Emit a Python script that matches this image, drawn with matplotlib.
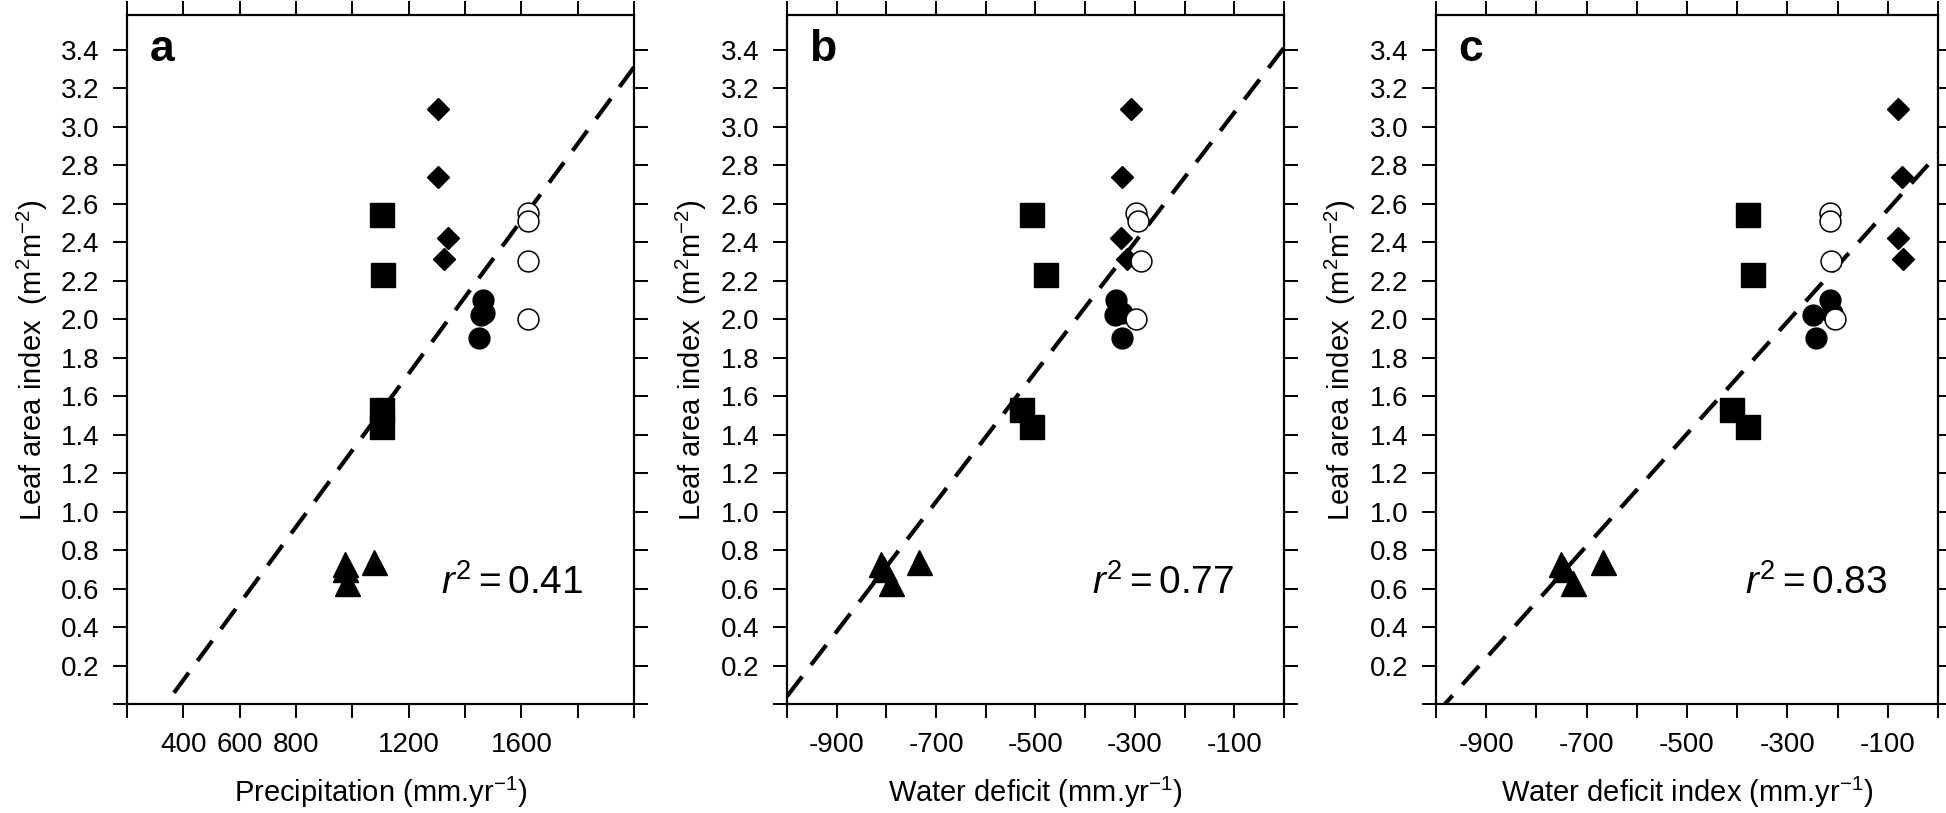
import numpy as np
import matplotlib.pyplot as plt

plt.rcParams['font.family'] = ['Liberation Sans', 'DejaVu Sans']
plt.rcParams['mathtext.fontset'] = 'custom'
plt.rcParams['mathtext.rm'] = 'Liberation Sans'
plt.rcParams['mathtext.it'] = 'Liberation Sans:italic'

# leaf area index of each site group (same in all panels)
lai_sq = [2.54, 2.23, 1.53, 1.44]
lai_dia = [3.09, 2.74, 2.42, 2.31]
lai_dot = [2.10, 2.02, 2.03, 1.90]
lai_open = [2.55, 2.51, 2.30, 2.00]
lai_tri = [0.73, 0.70, 0.63, 0.74]

# panel a: precipitation
prec_sq = [1104, 1107, 1104, 1104]
prec_dia = [1305, 1305, 1341, 1324]
prec_dot = [1463, 1458, 1466, 1448]
prec_open = [1623, 1623, 1623, 1623]
prec_tri = [975, 975, 980, 1078]

# panel b: water deficit
wd_sq = [-506, -478, -527, -507]
wd_dia = [-308, -325, -328, -315]
wd_dot = [-338, -340, -325, -325]
wd_open = [-298, -294, -287, -297]
wd_tri = [-810, -805, -790, -735]

# panel c: water deficit index
wdi_sq = [-378, -369, -411, -378]
wdi_dia = [-80, -71, -80, -70]
wdi_dot = [-216, -250, -211, -243]
wdi_open = [-216, -216, -214, -206]
wdi_tri = [-751, -745, -727, -667]

# regression lines (slope, intercept) and r2
fit_a = (0.001990, -0.671)
fit_b = (0.00337, 3.41)
fit_c = (0.002912, 2.86)
r2 = ['0.41', '0.77', '0.83']

panels = [
    ('a', [prec_sq, prec_dia, prec_dot, prec_open, prec_tri], fit_a,
     (200, 2000), np.arange(200, 2001, 200),
     ['', '400', '600', '800', '', '1200', '', '1600', '', ''],
     r'Precipitation (mm.yr$^{-1}$)'),
    ('b', [wd_sq, wd_dia, wd_dot, wd_open, wd_tri], fit_b,
     (-1000, 0), np.arange(-1000, 1, 100),
     ['', '-900', '', '-700', '', '-500', '', '-300', '', '-100', ''],
     r'Water deficit (mm.yr$^{-1}$)'),
    ('c', [wdi_sq, wdi_dia, wdi_dot, wdi_open, wdi_tri], fit_c,
     (-1000, 0), np.arange(-1000, 1, 100),
     ['', '-900', '', '-700', '', '-500', '', '-300', '', '-100', ''],
     r'Water deficit index (mm.yr$^{-1}$)'),
]

fig = plt.figure(figsize=(19.46, 8.13), dpi=100)
lefts = [0.0653, 0.4044, 0.7379]
widths = [0.2605, 0.2554, 0.258]

yt = np.arange(0, 3.41, 0.2)
ytl = [''] + ['%.1f' % v for v in yt[1:]]

for i, (letter, xs, fit, xlim, xt, xtl, xlab) in enumerate(panels):
    ax = fig.add_axes([lefts[i], 0.134, widths[i], 0.8475])
    xsq, xdia, xdot, xopen, xtri = xs
    ax.plot(xsq, lai_sq, 's', color='black', ms=17, zorder=3)
    ax.plot(xdia, lai_dia, 'D', color='black', ms=11.5, zorder=3)
    ax.plot(xdot, lai_dot, 'o', color='black', ms=15, zorder=3)
    ax.plot(xopen, lai_open, 'o', mfc='white', mec='black', mew=1.1,
            ls='none', ms=15, zorder=3)
    ax.plot(xtri, lai_tri, '^', color='black', ms=18, zorder=3)

    lx = np.array(xlim, dtype=float)
    ax.plot(lx, fit[0] * lx + fit[1], color='black', lw=3,
            linestyle=(0, (6, 3.5)), zorder=2)

    ax.set_xlim(*xlim)
    ax.set_ylim(0, 3.58)
    ax.set_xticks(xt)
    ax.set_xticklabels(xtl)
    ax.set_yticks(yt)
    ax.set_yticklabels(ytl)
    ax.tick_params(direction='out', length=10, width=1.4, labelsize=20,
                   top=True, right=True, pad=10)
    for s in ax.spines.values():
        s.set_linewidth(1.6)
    ax.set_xlabel(xlab, fontsize=21, labelpad=12)
    ax.set_ylabel(r'Leaf area index  (m$^2$m$^{-2}$)', fontsize=21, labelpad=8)
    ax.text(0.045, 0.95, letter, transform=ax.transAxes, fontsize=32,
            fontweight='bold', va='center', ha='left')
    ax.text(0.9, 0.175, r'$r^2 = $' + r2[i], transform=ax.transAxes,
            fontsize=28, ha='right', va='center')

fig.savefig('out.png', dpi=100)
